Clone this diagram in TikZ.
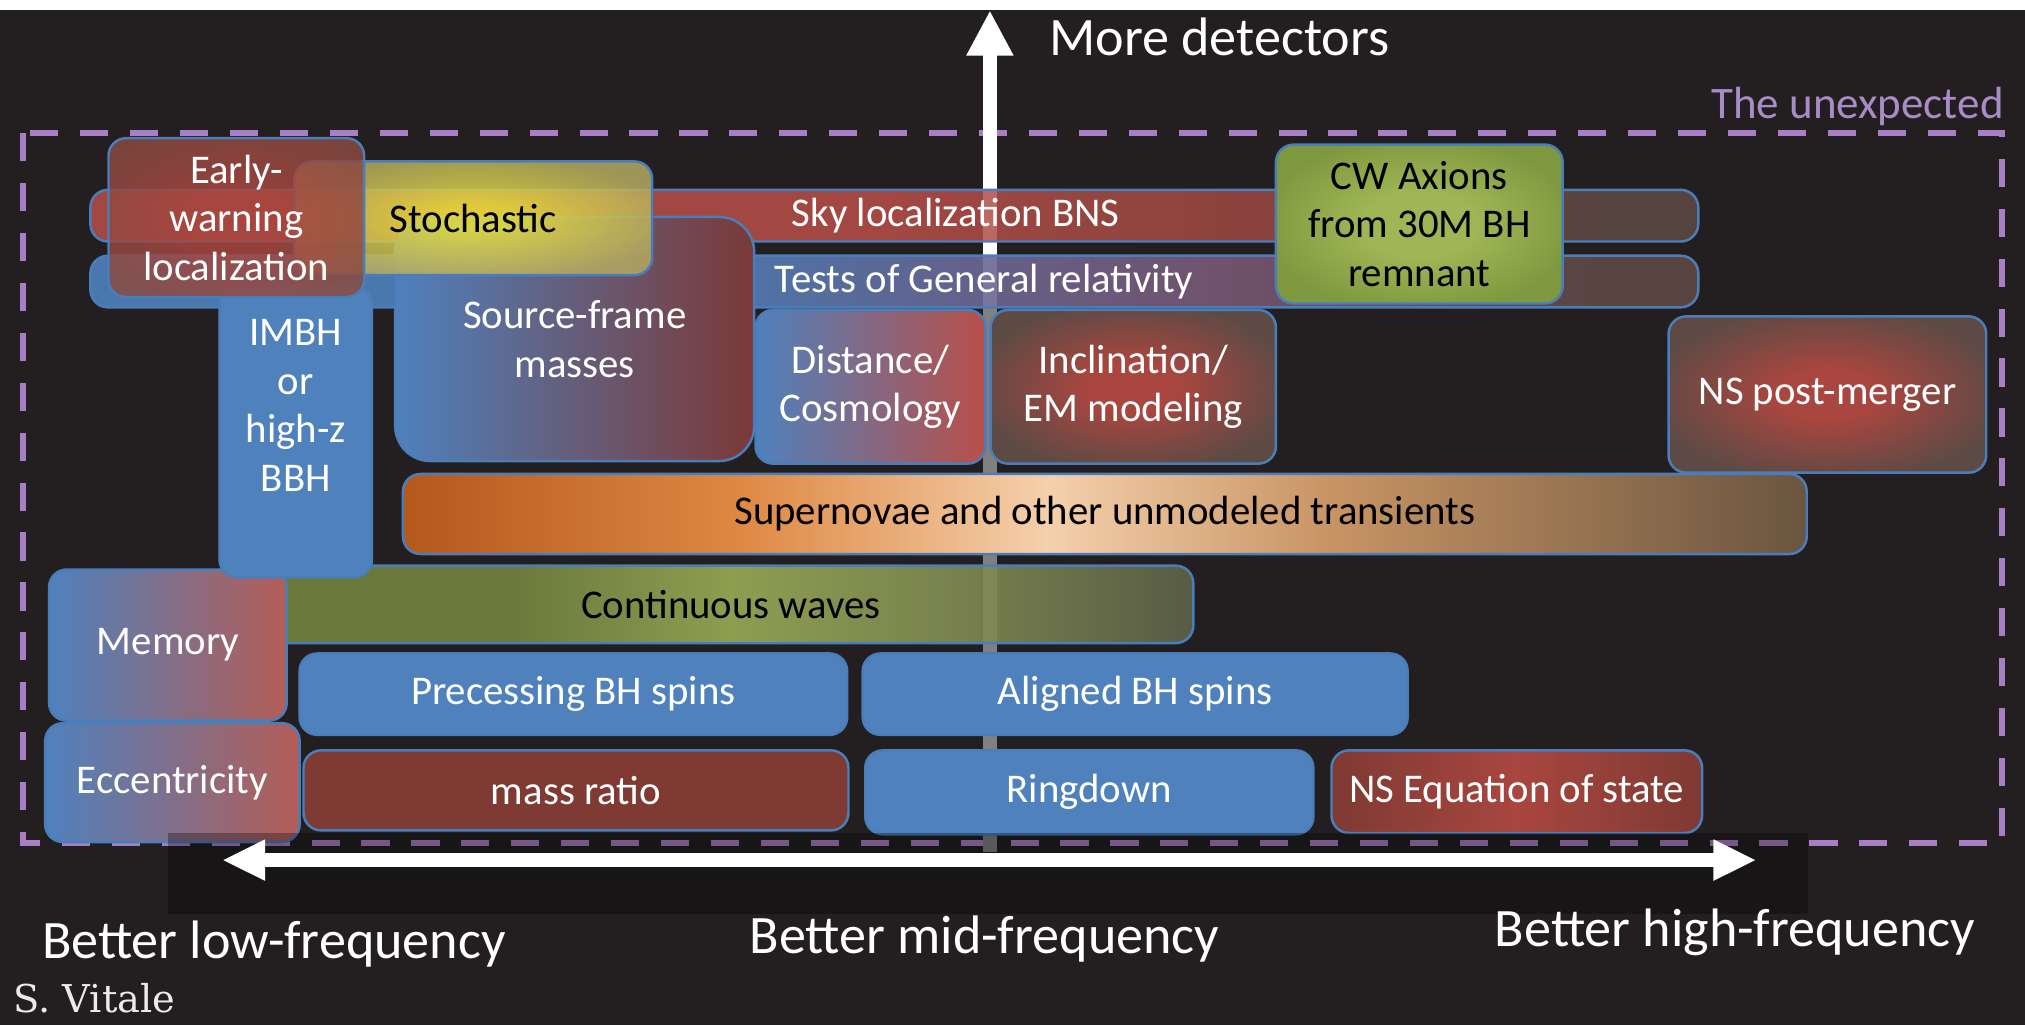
\documentclass[tikz,border=0pt]{standalone}
\usepackage{fontspec}
\setmainfont{Carlito}
\newfontfamily\signfont{DejaVu Serif}
\usetikzlibrary{arrows.meta}

\definecolor{bg}{HTML}{231F20}
\definecolor{offblue}{HTML}{4F81BD}
\definecolor{edgeblue}{HTML}{4A7EBB}
\definecolor{brick}{HTML}{A8463F}
\definecolor{lightbrick}{HTML}{B94F48}
\definecolor{midbrick}{HTML}{9A4943}
\definecolor{darkbrick}{HTML}{7E3A33}
\definecolor{dullbrown}{HTML}{5E4A45}
\definecolor{rustbrown}{HTML}{8A4B42}
\definecolor{salmon}{HTML}{B45D57}
\definecolor{srcred}{HTML}{7B3937}
\definecolor{mauve}{HTML}{6C6794}
\definecolor{plum}{HTML}{7A5876}
\definecolor{lavender}{HTML}{A87FC4}
\definecolor{lavtext}{HTML}{A98BC5}
\definecolor{shaftgray}{HTML}{808080}
\definecolor{yel0}{HTML}{ECE23A}
\definecolor{yel1}{HTML}{B4AA62}
\definecolor{grn0}{HTML}{9EB655}
\definecolor{grn1}{HTML}{7E983F}
% supernovae colours
\definecolor{sn0}{HTML}{B4581C}
\definecolor{sn1}{HTML}{DE8843}
\definecolor{sn2}{HTML}{F4D0AC}
\definecolor{sn3}{HTML}{C89464}
\definecolor{sn4}{HTML}{6A5540}
% continuous-wave colours
\definecolor{cw0}{HTML}{758641}
\definecolor{cw1}{HTML}{9CB057}
\definecolor{cw2}{HTML}{859055}
\definecolor{cw3}{HTML}{60644B}

\pgfdeclarehorizontalshading{skybar}{100bp}{color(0bp)=(lightbrick); color(25bp)=(lightbrick);
  color(50bp)=(lightbrick); color(62bp)=(midbrick); color(72bp)=(dullbrown); color(100bp)=(dullbrown)}
\pgfdeclarehorizontalshading{grbar}{100bp}{color(0bp)=(offblue); color(25bp)=(offblue);
  color(44bp)=(offblue); color(53bp)=(mauve); color(60bp)=(plum); color(72bp)=(dullbrown); color(100bp)=(dullbrown)}
\pgfdeclarehorizontalshading{supernova}{100bp}{color(0bp)=(sn0); color(25bp)=(sn0);
  color(37bp)=(sn1); color(48bp)=(sn2); color(58bp)=(sn3); color(75bp)=(sn4); color(100bp)=(sn4)}
\pgfdeclarehorizontalshading{cwaves}{100bp}{color(0bp)=(cw0); color(25bp)=(cw0);
  color(38bp)=(cw0); color(50bp)=(cw1); color(62bp)=(cw2); color(75bp)=(cw3); color(100bp)=(cw3)}
\pgfdeclarehorizontalshading{eosbar}{100bp}{color(0bp)=(darkbrick); color(25bp)=(darkbrick);
  color(50bp)=(brick); color(75bp)=(darkbrick); color(100bp)=(darkbrick)}
% soft glows
\pgfdeclareradialshading{redglow}{\pgfpoint{0bp}{0bp}}{color(0bp)=(brick); color(8bp)=(brick);
  color(28bp)=(dullbrown); color(50bp)=(dullbrown)}
\pgfdeclareradialshading{earlyglow}{\pgfpoint{0bp}{0bp}}{color(0bp)=(brick); color(10bp)=(brick);
  color(30bp)=(rustbrown); color(50bp)=(rustbrown)}
\pgfdeclareradialshading{yellowglow}{\pgfpoint{0bp}{0bp}}{color(0bp)=(yel0); color(5bp)=(yel0);
  color(28bp)=(yel1); color(50bp)=(yel1)}
\pgfdeclareradialshading{greenglow}{\pgfpoint{0bp}{0bp}}{color(0bp)=(grn0); color(10bp)=(grn0);
  color(28bp)=(grn1); color(50bp)=(grn1)}

\newcommand\boxfont{\fontsize{11.6}{13.8}\selectfont}
\newcommand\axisfont{\fontsize{15.4}{18}\selectfont}

\tikzset{
  area/.style args={#1/#2/#3/#4}{at={(#1/2+#3/2,#2/2+#4/2)},
    minimum width={(#3-#1)*0.012915cm}, minimum height={(#4-#2)*0.012915cm}},
  box/.style={draw=edgeblue, line width=0.7pt, rounded corners=5pt, inner sep=0pt,
    align=center, text=white, font=\boxfont},
  bluebox/.style={box, fill=offblue},
  twotone/.style={box, left color=offblue, right color=#1},
  glow/.style={box, shade, shading=#1},
  boxtext/.style={inner sep=0pt, align=center, text=white, font=\boxfont},
  axislabel/.style={inner sep=0pt, text=white, font=\axisfont, anchor=base west},
}

\begin{document}
\begin{tikzpicture}[x=0.012915cm, y=-0.012915cm]
\useasboundingbox (0,0) rectangle (1568,794);
\fill[white] (0,0) rectangle (1568,794);
\fill[bg] (0,7.5) rectangle (1568,794);

% The unexpected
\draw[lavender, line width=1.7pt, dash pattern=on 8pt off 6.2pt] (18,103) rectangle (1550,653);

% More detectors
\coordinate (vtip) at (766.5,8);
\coordinate (vmid) at (766.5,238);
\coordinate (vbase) at (766.5,660);
\draw[white, line width=4pt, -{Triangle[length=12.9pt,width=12.5pt]}] (vbase) -- (vtip);
\draw[shaftgray, line width=4pt] (vbase) -- (vmid);

% Long bars
\node[glow=skybar, fill opacity=0.85, area=70/147/1315/187] (sky) {};
\node[boxtext] (skytxt) at (740,167) {Sky localization BNS};
\node[glow=grbar, fill opacity=0.9, area=70/198/1315/238] (gr) {};
\node[boxtext] (grtxt) at (762,218) {Tests of General relativity};

% Upper row
\node[glow=greenglow, text=black, area=988/112/1210/235] (axion) {CW Axions\\from 30M BH\\remnant};
\node[twotone=srcred, rounded corners=10pt, area=306/168/584/357] (srcmass) {Source-frame\\masses};
\node[twotone=lightbrick, area=585/240/763/359] (dist) {Distance/\\Cosmology};
\node[glow=redglow, area=767/240/988/359] (incl) {Inclination/\\EM modeling};
\node[glow=redglow, area=1292/245/1538/366] (postmerger) {NS post-merger};

% Middle rows
\node[glow=supernova, text=black, area=312/367/1399/429] (sne) {Supernovae and other unmodeled transients};
\node[glow=cwaves, fill opacity=0.88, text opacity=1, text=black, area=208/438/924/498] (cwaves)
  {Continuous waves};
\node[twotone=salmon, area=38/441/222/558] (memory) {Memory};

% Lower rows
\node[twotone=salmon, area=35/560/232/652] (ecc) {Eccentricity};
\node[bluebox, area=232/506/656/569] (precess) {Precessing BH spins};
\node[bluebox, area=668/506/1090/569] (aligned) {Aligned BH spins};
\node[box, fill=darkbrick, area=235/581/657/643] (qratio) {mass ratio};
\node[bluebox, area=670/581/1017/646] (ringdown) {Ringdown};
\node[glow=eosbar, area=1031/581/1318/645] (eos) {NS Equation of state};

% Top-left cluster
\node[bluebox, area=170/222/288/447] (imbh) {};
\node[boxtext] (imbhtxt) at (229,314) {IMBH\\or\\high-z\\BBH};
\node[glow=yellowglow, fill opacity=0.85, text opacity=1, text=black, area=228/125/505/213] (stoch)
  {Stochastic};
\node[glow=earlyglow, fill opacity=0.85, text opacity=1, area=84/107/282/230] (early)
  {Early-\\warning\\localization};

% Frequency axis
\fill[black, fill opacity=0.3] (130,645) rectangle (1400,708);
\coordinate (hleft) at (172,666);
\coordinate (hright) at (1360,666);
\draw[white, line width=4.2pt, {Triangle[length=12.2pt,width=10.8pt]}-{Triangle[length=12.2pt,width=10.8pt]}]
  (hleft) -- (hright);

% Labels
\node[axislabel] (moredet) at (812,43) {More detectors};
\node[inner sep=0pt, anchor=base east, text=lavtext, font=\fontsize{12.8}{15}\selectfont]
  (unexp) at (1552,92) {The unexpected};
\node[axislabel] (lowf) at (32,742) {Better low-frequency};
\node[axislabel] (midf) at (580,738) {Better mid-frequency};
\node[axislabel] (highf) at (1157,733) {Better high-frequency};
\node[inner sep=0pt, anchor=base west, text=white!92!black, font=\signfont\fontsize{10.9}{13}\selectfont]
  (sign) at (10,784) {S. Vitale};

\end{tikzpicture}
\end{document}
